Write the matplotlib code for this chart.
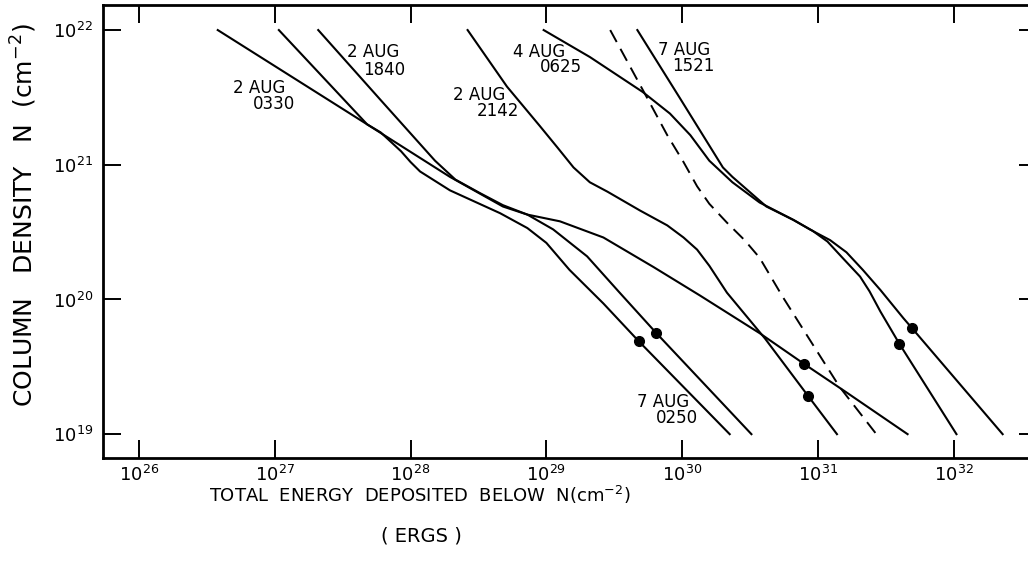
import numpy as np
import matplotlib
matplotlib.use("Agg")
import matplotlib.pyplot as plt

# curves: log10(total energy, ergs) vs log10(column density, cm^-2)
logE_0330 = [26.58, 27.68, 28.29, 28.68, 28.86, 29.10, 29.42, 29.79, 30.13, 30.57, 30.90, 31.21, 31.66]
logN_0330 = [22.00, 21.30, 20.91, 20.69, 20.63, 20.58, 20.46, 20.24, 20.03, 19.75, 19.52, 19.31, 19.00]

logE_0250 = [27.03, 27.68, 27.78, 27.93, 28.00, 28.07, 28.29, 28.66, 28.86, 29.00, 29.17, 29.42, 29.68, 30.35]
logN_0250 = [22.00, 21.30, 21.24, 21.10, 21.02, 20.95, 20.81, 20.64, 20.53, 20.42, 20.22, 19.97, 19.69, 19.00]

logE_1840 = [27.32, 27.78, 28.18, 28.33, 28.51, 28.68, 28.86, 29.05, 29.30, 29.54, 29.81, 30.51]
logN_1840 = [22.00, 21.48, 21.03, 20.89, 20.79, 20.70, 20.63, 20.52, 20.32, 20.05, 19.75, 19.00]

logE_2142 = [28.42, 28.71, 28.95, 29.08, 29.20, 29.32, 29.45, 29.69, 29.89, 30.01, 30.11, 30.20, 30.33,
             30.61, 30.93, 31.14]
logN_2142 = [22.00, 21.58, 21.29, 21.13, 20.98, 20.87, 20.80, 20.66, 20.55, 20.46, 20.37, 20.25, 20.05,
             19.71, 19.28, 19.00]

logE_dash = [29.47, 29.74, 29.89, 30.01, 30.11, 30.20, 30.33, 30.46, 30.57, 30.74, 30.94, 31.16, 31.43]
logN_dash = [22.00, 21.50, 21.22, 21.02, 20.84, 20.71, 20.57, 20.44, 20.31, 20.02, 19.70, 19.35, 19.00]

logE_0625 = [28.98, 29.32, 29.71, 29.91, 30.06, 30.20, 30.37, 30.57, 30.82, 30.96, 31.07, 31.18, 31.31,
             31.38, 31.46, 31.60, 32.02]
logN_0625 = [22.00, 21.80, 21.54, 21.38, 21.22, 21.03, 20.87, 20.72, 20.59, 20.51, 20.43, 20.31, 20.17,
             20.06, 19.91, 19.67, 19.00]

logE_1521 = [29.67, 29.98, 30.30, 30.37, 30.62, 30.82, 30.94, 31.09, 31.21, 31.33, 31.46, 31.63, 31.69, 32.36]
logN_1521 = [22.00, 21.50, 20.98, 20.91, 20.69, 20.59, 20.52, 20.44, 20.35, 20.22, 20.07, 19.86, 19.79, 19.00]

# dots
dot_logE = [29.68, 29.81, 30.90, 30.93, 31.60, 31.69]
dot_logN = [19.69, 19.75, 19.52, 19.28, 19.67, 19.79]

# curve labels: (line1, line2)
labels = [("2 AUG", "0330"), ("2 AUG", "1840"), ("2 AUG", "2142"),
          ("4 AUG", "0625"), ("7 AUG", "1521"), ("7 AUG", "0250")]
# label placement in figure pixels (left of line1, y of line1, left of line2, y of line2)
label_pos = [(233, 88, 253, 104), (347, 52, 363, 70), (453, 95, 477, 111),
             (513, 52, 540, 67), (658, 50, 672, 66), (637, 402, 656, 418)]

W, H = 1028, 580
fig = plt.figure(figsize=(W / 100, H / 100), dpi=100)
ax = fig.add_axes([103 / W, (H - 458) / H, (1037 - 103) / W, (458 - 5) / H])

solid = [(logE_0330, logN_0330), (logE_0250, logN_0250), (logE_1840, logN_1840),
         (logE_2142, logN_2142), (logE_0625, logN_0625), (logE_1521, logN_1521)]
for e, n in solid:
    ax.plot(10 ** np.array(e), 10 ** np.array(n), color='black', lw=1.5,
            solid_joinstyle='round')
ax.plot(10 ** np.array(logE_dash), 10 ** np.array(logN_dash), color='black', lw=1.4,
        dashes=(7, 4))
ax.plot(10 ** np.array(dot_logE), 10 ** np.array(dot_logN), 'o', color='black', ms=7)

ax.set_xscale('log')
ax.set_yscale('log')
ax.set_xlim(10 ** 25.735, 10 ** 32.613)
ax.set_ylim(10 ** 18.823, 10 ** 22.186)
ax.set_xticks([10.0 ** k for k in range(26, 33)])
ax.set_yticks([10.0 ** k for k in range(19, 23)])
ax.minorticks_off()
ax.tick_params(direction='in', length=13, width=1.4, labelsize=13,
               top=True, right=True)
ax.tick_params(axis='x', pad=5)
ax.tick_params(axis='y', pad=7)
for s in ax.spines.values():
    s.set_linewidth(2)

for (l1, l2), (x1, y1, x2, y2) in zip(labels, label_pos):
    fig.text(x1 / W, 1 - y1 / H, l1, fontsize=12, ha='left', va='center')
    fig.text(x2 / W, 1 - y2 / H, l2, fontsize=12, ha='left', va='center')

fig.text(420 / W, 1 - 495 / H, r"TOTAL  ENERGY  DEPOSITED  BELOW  N(cm$^{-2}$)",
         fontsize=13, ha='center', va='center')
fig.text(421 / W, 1 - 536 / H, "( ERGS )", fontsize=14, ha='center', va='center')
fig.text(24 / W, 1 - 215 / H, r"COLUMN   DENSITY   N  (cm$^{-2}$)", fontsize=18,
         rotation=90, ha='center', va='center')

fig.savefig('out.png', dpi=100)
